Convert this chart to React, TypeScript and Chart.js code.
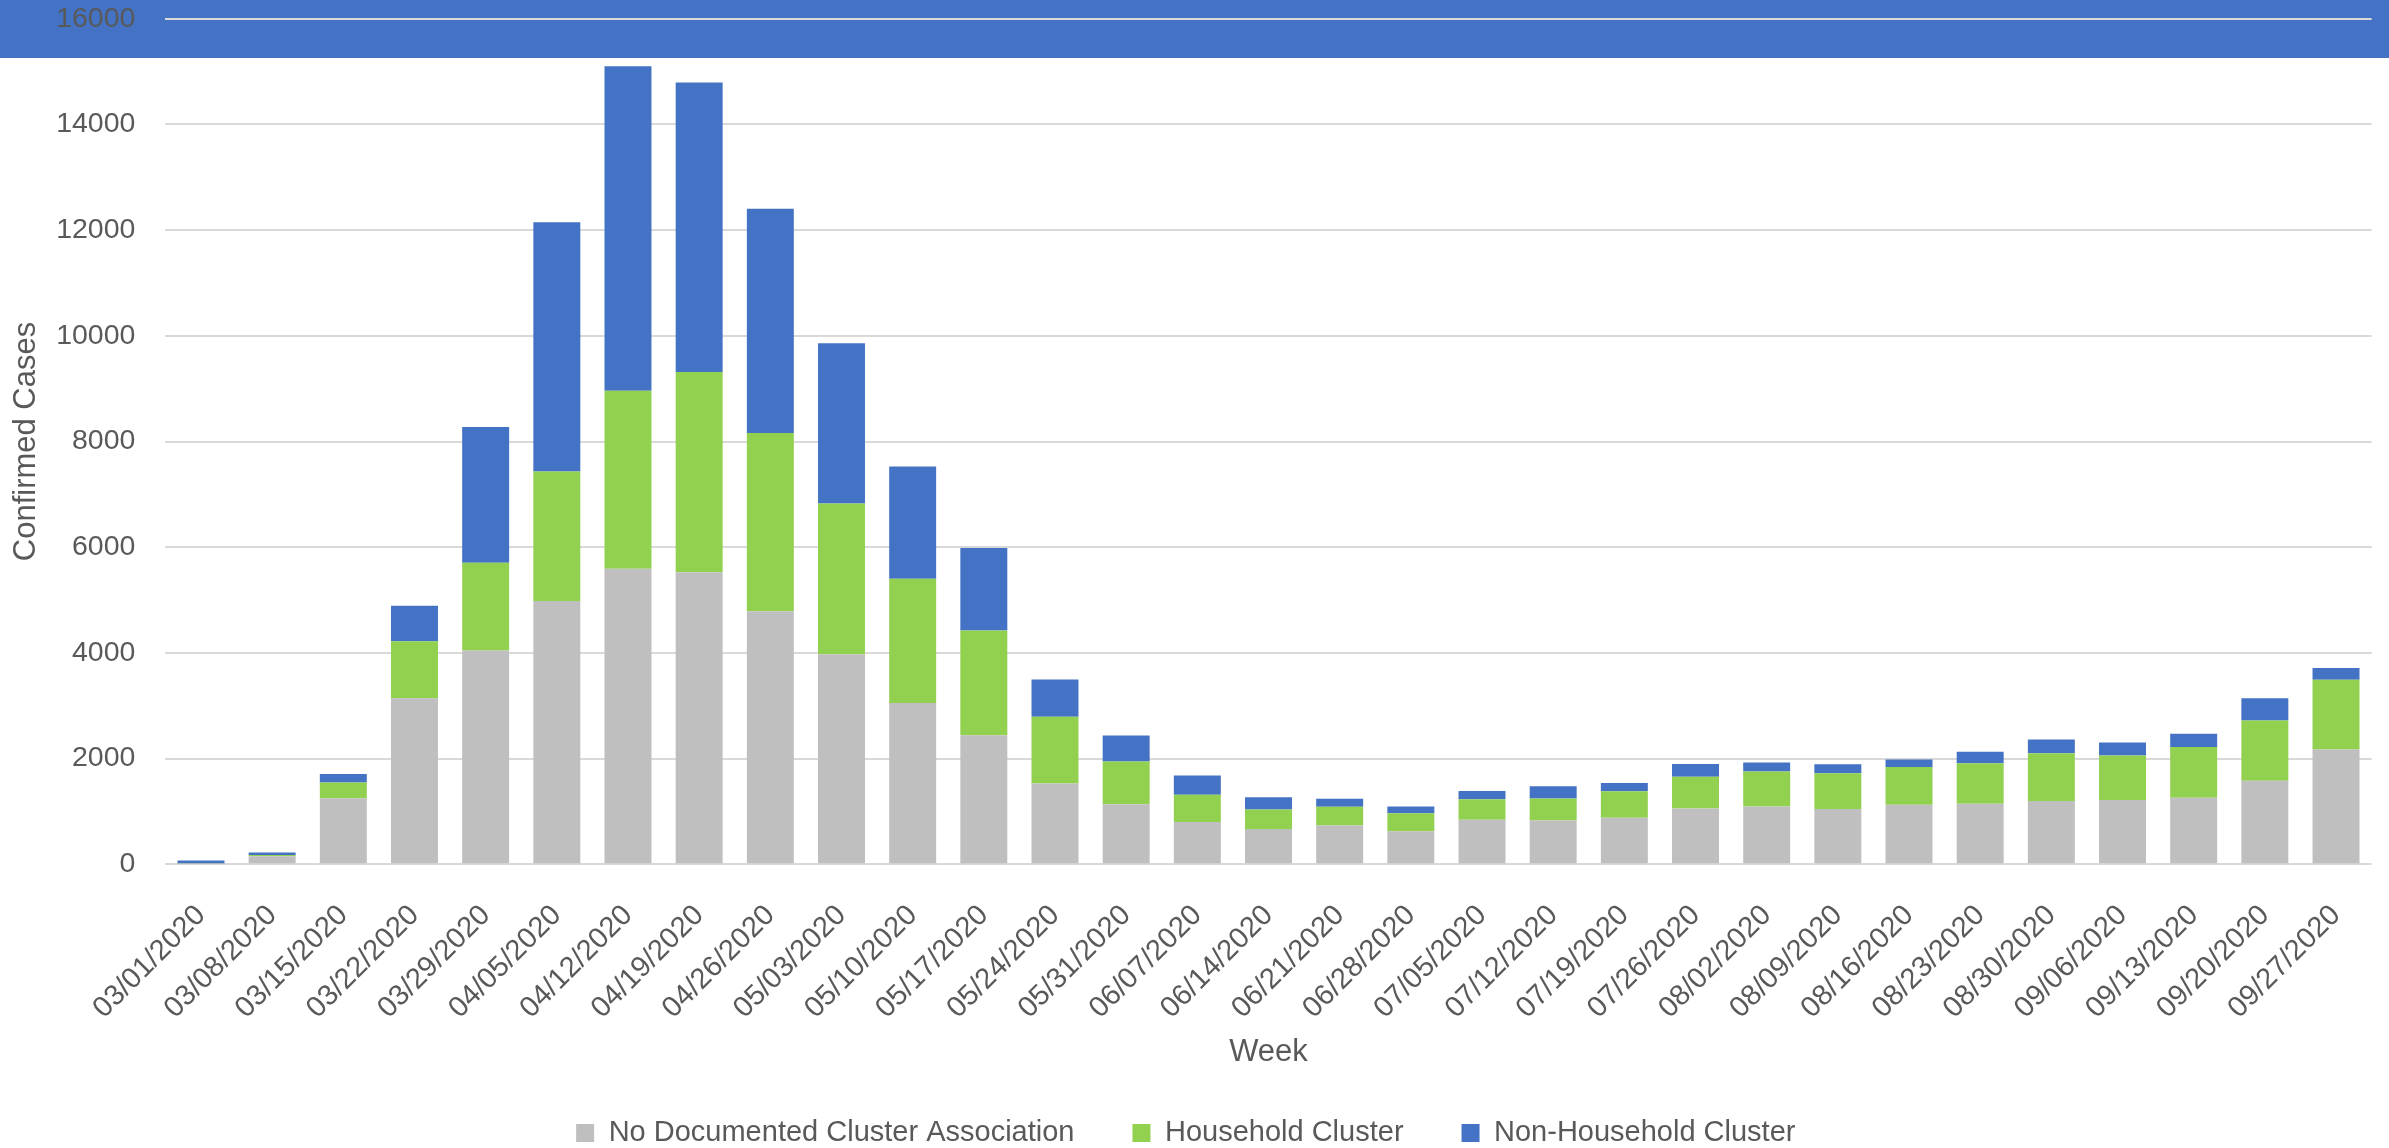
import React, { useEffect, useRef } from "react";
import { Chart, registerables } from "chart.js";

Chart.register(...registerables);

// Weekly confirmed cases by cluster type
const weeks = [
  "03/01/2020", "03/08/2020", "03/15/2020", "03/22/2020", "03/29/2020",
  "04/05/2020", "04/12/2020", "04/19/2020", "04/26/2020", "05/03/2020",
  "05/10/2020", "05/17/2020", "05/24/2020", "05/31/2020", "06/07/2020",
  "06/14/2020", "06/21/2020", "06/28/2020", "07/05/2020", "07/12/2020",
  "07/19/2020", "07/26/2020", "08/02/2020", "08/09/2020", "08/16/2020",
  "08/23/2020", "08/30/2020", "09/06/2020", "09/13/2020", "09/20/2020",
  "09/27/2020",
];

const noDocumentedCluster = [
  10, 150, 1250, 3140, 4045, 4980, 5590, 5525, 4790, 3975,
  3050, 2440, 1530, 1135, 800, 670, 735, 625, 845, 830,
  880, 1055, 1095, 1045, 1125, 1145, 1200, 1215, 1260, 1580,
  2170,
];

const householdCluster = [
  5, 25, 300, 1080, 1660, 2450, 3370, 3790, 3370, 2850,
  2355, 1985, 1260, 810, 515, 365, 355, 340, 385, 415,
  500, 600, 660, 680, 715, 765, 900, 845, 960, 1140,
  1320,
];

const nonHouseholdCluster = [
  55, 50, 160, 670, 2570, 4720, 6140, 5480, 4245, 3035,
  2120, 1560, 705, 490, 365, 235, 150, 130, 155, 230,
  160, 245, 170, 170, 145, 220, 260, 245, 250, 420,
  225,
];

const yTicks = [0, 2000, 4000, 6000, 8000, 10000, 12000, 14000, 16000];

const FONT = "'Liberation Sans', Arial, sans-serif";
const TEXT = "#595959";

// Solid header band across the top of the canvas
const headerBand = {
  id: "headerBand",
  beforeDraw(chart: any) {
    const { ctx, width } = chart;
    ctx.save();
    ctx.fillStyle = "#4472C4";
    ctx.fillRect(0, 0, width, 58);
    ctx.restore();
  },
};

export default function App() {
  const canvasRef = useRef<HTMLCanvasElement | null>(null);

  useEffect(() => {
    if (!canvasRef.current) return;
    const chart = new Chart(canvasRef.current, {
      type: "bar",
      data: {
        labels: weeks,
        datasets: [
          {
            label: "No Documented Cluster Association",
            data: noDocumentedCluster,
            backgroundColor: "#BFBFBF",
          },
          {
            label: "Household Cluster",
            data: householdCluster,
            backgroundColor: "#92D050",
          },
          {
            label: "Non-Household Cluster",
            data: nonHouseholdCluster,
            backgroundColor: "#4472C4",
          },
        ],
      },
      options: {
        animation: false,
        responsive: false,
        layout: { padding: { left: 0, right: 17.4, top: 18.7, bottom: -9.5 } },
        datasets: {
          bar: { barPercentage: 0.66, categoryPercentage: 1 },
        },
        plugins: {
          tooltip: { enabled: false },
          legend: {
            position: "bottom",
            labels: {
              color: TEXT,
              font: { family: FONT, size: 29 },
              boxWidth: 18,
              boxHeight: 18,
              padding: 58,
            },
          },
        },
        scales: {
          x: {
            stacked: true,
            grid: { display: false },
            border: { display: false },
            ticks: {
              color: TEXT,
              font: { family: FONT, size: 29 },
              minRotation: 45,
              maxRotation: 45,
              autoSkip: false,
              padding: 26,
            },
            title: {
              display: true,
              text: "Week",
              color: TEXT,
              font: { family: FONT, size: 31 },
              padding: { top: 0, bottom: -11 },
            },
            afterFit(scale: any) {
              scale.height = 196.2;
            },
          },
          y: {
            stacked: true,
            min: 0,
            max: 16000,
            afterBuildTicks(scale: any) {
              scale.ticks = yTicks.map((v) => ({ value: v }));
            },
            grid: {
              color: "#D9D9D9",
              lineWidth: 2,
              drawTicks: true,
              tickLength: 30,
              tickColor: "rgba(0,0,0,0)",
            },
            border: { display: false },
            ticks: {
              color: TEXT,
              font: { family: FONT, size: 28.5 },
              padding: 0,
              callback: (v: any) => String(v),
            },
            title: {
              display: true,
              text: "Confirmed Cases",
              color: TEXT,
              font: { family: FONT, size: 31 },
              padding: { top: 8, bottom: 0 },
            },
            afterFit(scale: any) {
              scale.width = 165.4;
            },
          },
        },
      },
      plugins: [headerBand],
    });
    return () => chart.destroy();
  }, []);

  return (
    <div style={{ position: "absolute", left: 0, top: 0, width: 2389, height: 1148 }}>
      <canvas ref={canvasRef} width={2389} height={1148} style={{ display: "block" }} />
    </div>
  );
}
